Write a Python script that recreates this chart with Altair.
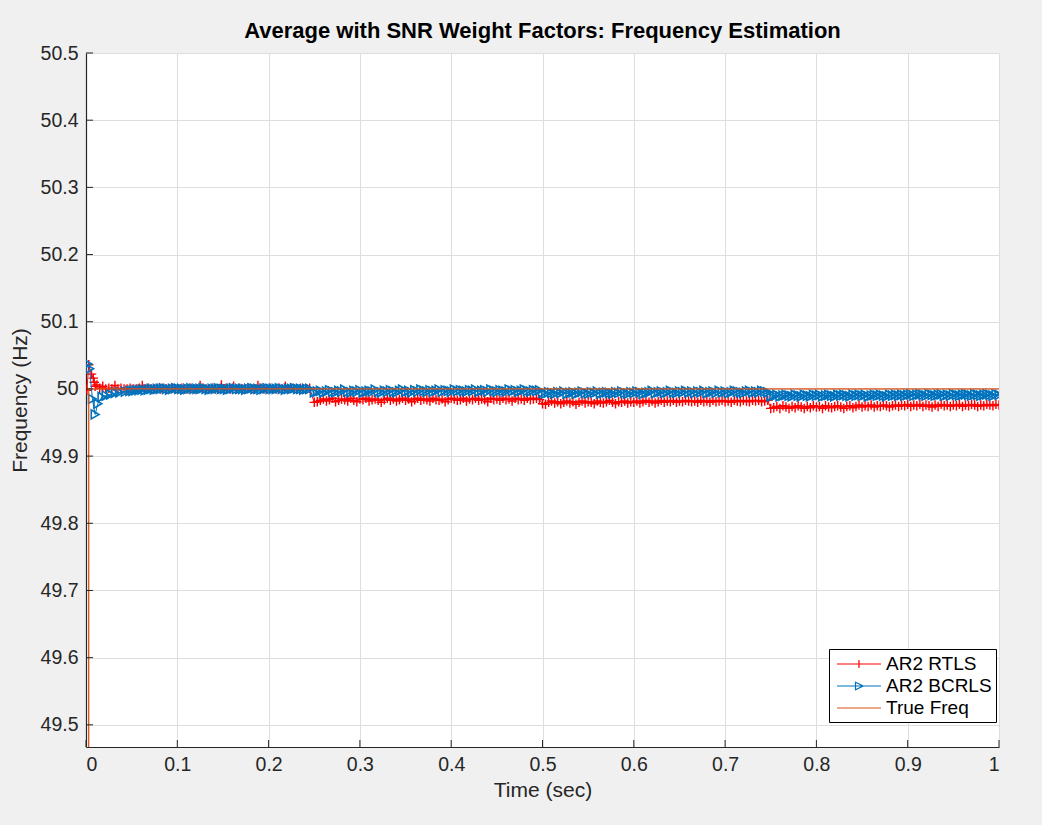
import altair as alt
import numpy as np
import pandas as pd

# ---------------- data ----------------
# AR2 RTLS (red, '+')
rtls_early_t = [0.001, 0.003, 0.006, 0.008, 0.009, 0.010, 0.012]
rtls_early_f = [49.998, 50.036, 50.022, 50.016, 50.010, 50.004, 50.006]
rtls_seg1 = [50.001, 50.004, 50.000, 50.001, 50.000, 50.005, 50.000, 50.001, 50.000, 50.000,
             50.001, 50.000, 50.000, 50.001, 50.005, 50.000, 50.001, 50.000, 50.000, 50.001,
             50.000, 50.001, 50.000, 50.000, 50.001, 50.000, 50.000, 50.001, 50.000, 50.000,
             50.001, 50.000, 50.000, 50.005, 50.001, 50.000, 50.000, 50.001, 50.000, 50.000,
             50.006, 50.000, 50.001, 50.000, 50.004, 50.000, 50.001, 50.000, 50.000, 50.001,
             50.000, 50.000, 50.005, 50.001, 50.000, 50.000, 50.001, 50.000, 50.000, 50.001,
             50.000, 50.004, 50.000, 50.001, 50.000, 50.000, 50.001, 50.000, 50.000, 50.001]
rtls_seg2 = [49.980, 49.981, 49.983, 49.985, 49.982, 49.984, 49.986, 49.981, 49.983, 49.985,
             49.984, 49.982, 49.986, 49.983, 49.981, 49.985, 49.984, 49.986, 49.982, 49.984,
             49.985, 49.983, 49.980, 49.984, 49.986, 49.983, 49.985, 49.982, 49.984, 49.986,
             49.983, 49.985, 49.981, 49.984, 49.986, 49.983, 49.985, 49.984, 49.982, 49.986,
             49.984, 49.983, 49.985, 49.981, 49.984, 49.986, 49.985, 49.983, 49.984, 49.986,
             49.982, 49.985, 49.984, 49.986, 49.983, 49.985, 49.984, 49.981, 49.986, 49.984,
             49.985, 49.983, 49.986, 49.984, 49.985, 49.982, 49.986, 49.984, 49.985, 49.983,
             49.986, 49.984, 49.985, 49.986, 49.984]
rtls_seg3 = [49.978, 49.977, 49.980, 49.982, 49.979, 49.981, 49.978, 49.980, 49.982, 49.979,
             49.981, 49.977, 49.980, 49.982, 49.979, 49.981, 49.980, 49.978, 49.982, 49.980,
             49.979, 49.981, 49.983, 49.980, 49.978, 49.981, 49.980, 49.982, 49.979, 49.981,
             49.980, 49.982, 49.979, 49.981, 49.983, 49.980, 49.982, 49.979, 49.981, 49.983,
             49.980, 49.982, 49.981, 49.983, 49.980, 49.982, 49.981, 49.983, 49.982, 49.981,
             49.982, 49.980, 49.983, 49.981, 49.982, 49.980, 49.983, 49.981, 49.982, 49.983,
             49.981, 49.982, 49.980, 49.983, 49.982, 49.981, 49.983, 49.982, 49.981, 49.983,
             49.982, 49.983, 49.981, 49.982, 49.983]
rtls_seg4 = [49.971, 49.972, 49.974, 49.971, 49.975, 49.973, 49.971, 49.974, 49.972, 49.975,
             49.973, 49.971, 49.974, 49.972, 49.975, 49.973, 49.974, 49.971, 49.975, 49.973,
             49.972, 49.974, 49.975, 49.973, 49.971, 49.974, 49.975, 49.972, 49.974, 49.976,
             49.973, 49.975, 49.974, 49.976, 49.973, 49.975, 49.974, 49.976, 49.975, 49.973,
             49.975, 49.976, 49.974, 49.976, 49.975, 49.977, 49.974, 49.976, 49.975, 49.977,
             49.974, 49.976, 49.975, 49.973, 49.976, 49.974, 49.977, 49.975, 49.976, 49.974,
             49.976, 49.975, 49.977, 49.974, 49.976, 49.975, 49.977, 49.976, 49.974, 49.976,
             49.975, 49.977, 49.976, 49.975, 49.977, 49.976]

# AR2 BCRLS (blue, '>')
bcrls_early_t = [0.002, 0.004, 0.007, 0.010, 0.013, 0.0175, 0.022, 0.027, 0.032, 0.037, 0.043]
bcrls_early_f = [50.037, 50.030, 49.985, 49.962, 49.978, 49.988, 49.990, 49.992, 49.994, 49.995, 49.996]
bcrls_seg1 = [49.997, 49.997, 49.998, 49.998, 49.999, 49.998, 49.999, 50.000, 49.999, 50.000,
              50.000, 50.001, 50.000, 49.999, 50.000, 50.001, 50.000, 50.000, 49.999, 50.000,
              50.001, 50.000, 50.000, 50.000, 50.001, 50.000, 49.999, 50.000, 50.000, 50.001,
              50.000, 50.000, 49.999, 50.000, 50.001, 50.000, 50.000, 50.000, 49.999, 50.000,
              50.001, 50.000, 50.000, 49.999, 50.000, 50.001, 50.000, 50.000, 50.000, 50.001,
              50.000, 49.999, 50.000, 50.000, 50.001, 50.000, 50.000, 49.999, 50.000, 50.000]
bcrls_seg2 = [49.995, 49.996, 49.997, 49.995, 49.996, 49.998, 49.996, 49.995, 49.997, 49.996,
              49.999, 49.996, 49.995, 49.997, 49.996, 49.998, 49.995, 49.996, 49.997, 49.996,
              49.999, 49.996, 49.995, 49.997, 49.996, 49.998, 49.996, 49.995, 49.997, 49.999,
              49.996, 49.997, 49.995, 49.998, 49.996, 49.999, 49.997, 49.996, 49.998, 49.996,
              49.997, 49.999, 49.996, 49.998, 49.997, 49.996, 49.999, 49.997, 49.998, 49.997,
              49.996, 49.998, 49.997, 49.999, 49.996, 49.997, 49.998, 49.996, 49.999, 49.997,
              49.996, 49.998, 49.997, 49.996, 49.999, 49.997, 49.998, 49.996, 49.997, 49.999,
              49.997, 49.996, 49.998, 49.997, 49.998]
bcrls_seg3 = [49.994, 49.993, 49.995, 49.994, 49.993, 49.995, 49.994, 49.996, 49.993, 49.994,
              49.995, 49.993, 49.994, 49.996, 49.994, 49.993, 49.995, 49.994, 49.996, 49.993,
              49.994, 49.995, 49.994, 49.993, 49.995, 49.994, 49.996, 49.994, 49.993, 49.995,
              49.994, 49.996, 49.995, 49.993, 49.994, 49.995, 49.997, 49.994, 49.995, 49.996,
              49.994, 49.995, 49.997, 49.995, 49.994, 49.996, 49.995, 49.997, 49.995, 49.996,
              49.994, 49.996, 49.995, 49.997, 49.994, 49.995, 49.996, 49.994, 49.997, 49.995,
              49.996, 49.994, 49.995, 49.997, 49.996, 49.995, 49.994, 49.996, 49.997, 49.995,
              49.996, 49.995, 49.997, 49.996, 49.995]
bcrls_seg4 = [49.989, 49.990, 49.991, 49.989, 49.990, 49.991, 49.990, 49.989, 49.991, 49.990,
              49.989, 49.991, 49.990, 49.989, 49.991, 49.990, 49.991, 49.989, 49.990, 49.991,
              49.990, 49.989, 49.991, 49.990, 49.991, 49.990, 49.989, 49.991, 49.990, 49.991,
              49.990, 49.991, 49.989, 49.990, 49.991, 49.990, 49.991, 49.990, 49.989, 49.991,
              49.990, 49.991, 49.990, 49.991, 49.990, 49.991, 49.992, 49.990, 49.991, 49.992,
              49.991, 49.990, 49.992, 49.991, 49.990, 49.991, 49.992, 49.990, 49.991, 49.990,
              49.992, 49.991, 49.990, 49.991, 49.992, 49.991, 49.990, 49.992, 49.991, 49.990,
              49.991, 49.992, 49.991, 49.990, 49.992, 49.991]

# True frequency (orange)
true_t = [0.0, 0.003, 1.0]
true_f = [0.0, 50.0, 50.0]

# segment time spans (sampling grid)
rtls_spans = [(0.015, 0.245), (0.25, 0.4967), (0.5, 0.7467), (0.75, 1.0)]
bcrls_spans = [(0.048, 0.245), (0.25, 0.4967), (0.5, 0.7467), (0.75, 1.0)]

x_ticks = [0, 0.1, 0.2, 0.3, 0.4, 0.5, 0.6, 0.7, 0.8, 0.9, 1.0]
y_ticks = [49.5, 49.6, 49.7, 49.8, 49.9, 50.0, 50.1, 50.2, 50.3, 50.4, 50.5]

series_names = ["AR2 RTLS", "AR2 BCRLS", "True Freq"]
series_colors = ["#ff0000", "#0072bd", "#d95319"]
legend_paths = ["M-2.2,0H2.2M0,-0.4V0.4",
                "M-2.2,0H2.2M-0.35,-0.38L0.42,0L-0.35,0.38Z",
                "M-2.2,0H2.2"]


def build(early_t, early_f, spans, segs, name):
    ts = list(early_t)
    fs = list(early_f)
    for (a, b), vals in zip(spans, segs):
        ts += list(np.linspace(a, b, len(vals)))
        fs += list(vals)
    return pd.DataFrame({"t": ts, "f": fs, "series": name})


df_rt = build(rtls_early_t, rtls_early_f, rtls_spans,
              [rtls_seg1, rtls_seg2, rtls_seg3, rtls_seg4], "AR2 RTLS")
df_bc = build(bcrls_early_t, bcrls_early_f, bcrls_spans,
              [bcrls_seg1, bcrls_seg2, bcrls_seg3, bcrls_seg4], "AR2 BCRLS")
df_tr = pd.DataFrame({"t": true_t, "f": true_f, "series": "True Freq"})
# legend-only rows, placed outside the x domain (clipped away)
df_leg = pd.DataFrame({"t": [-1.0] * 3, "f": [50.0] * 3, "series": series_names})

W, H = 913, 694
FONT = "Liberation Sans"
TXT = "#262626"

x_enc = alt.X("t:Q", scale=alt.Scale(domain=[0, 1], nice=False, zero=False),
              axis=alt.Axis(values=x_ticks, title="Time (sec)", labelExpr="format(datum.value, '~g')",
                            grid=True, ticks=False, tickSize=0, labelPadding=8,
                            titlePadding=6))
y_enc = alt.Y("f:Q", scale=alt.Scale(domain=[49.467, 50.5], nice=False, zero=False),
              axis=alt.Axis(values=y_ticks, title="Frequency (Hz)", labelExpr="format(datum.value, '~g')",
                            grid=True, ticks=False, tickSize=0, labelPadding=8,
                            titlePadding=10))

legend = alt.Legend(
    title=None, orient="none", legendX=743, legendY=596,
    fillColor="white", strokeColor="black", padding=4,
    symbolSize=400, symbolOffset=15, labelOffset=16, symbolStrokeWidth=1.2,
    symbolFillColor="transparent",
    labelFont=FONT, labelFontSize=19, labelColor="black", rowPadding=1,
)
color_scale = alt.Scale(domain=series_names, range=series_colors)
color_enc = alt.Color("series:N", scale=color_scale, legend=legend)

PLUS = "M-1,0H1M0,-1V1"

rt_line = alt.Chart(df_rt).mark_line(strokeWidth=1, clip=True).encode(x=x_enc, y=y_enc, color=color_enc)
rt_pts = alt.Chart(df_rt).mark_point(shape=PLUS, size=90, filled=False, strokeWidth=1.4,
                                     opacity=1, clip=True).encode(x=x_enc, y=y_enc, color=color_enc)
bc_line = alt.Chart(df_bc).mark_line(strokeWidth=1, clip=True).encode(x=x_enc, y=y_enc, color=color_enc)
bc_pts = alt.Chart(df_bc).mark_point(shape="triangle-right", size=80, filled=False, strokeWidth=1.6,
                                     opacity=1, clip=True).encode(x=x_enc, y=y_enc, color=color_enc)
tr_line = alt.Chart(df_tr).mark_line(strokeWidth=1.3, clip=True).encode(x=x_enc, y=y_enc, color=color_enc)

leg_layer = alt.Chart(df_leg).mark_point(filled=False, opacity=1, strokeWidth=1.2, clip=True).encode(
    x=x_enc, y=y_enc,
    color=color_enc,
    shape=alt.Shape("series:N", scale=alt.Scale(domain=series_names, range=legend_paths), legend=legend),
)

xt_df = pd.DataFrame({"t": x_ticks})
yt_df = pd.DataFrame({"f": y_ticks})
x_tickmarks = alt.Chart(xt_df).mark_rule(color=TXT, strokeWidth=1).encode(
    x=alt.X("t:Q"), y=alt.value(H), y2=alt.value(H - 7))
y_tickmarks = alt.Chart(yt_df).mark_rule(color=TXT, strokeWidth=1).encode(
    y=alt.Y("f:Q"), x=alt.value(0), x2=alt.value(7))

chart = alt.layer(rt_line, rt_pts, bc_line, bc_pts, tr_line, x_tickmarks, y_tickmarks, leg_layer).properties(
    width=W, height=H,
    title=alt.Title("Average with SNR Weight Factors: Frequency Estimation",
                    font=FONT, fontSize=22, fontWeight="bold", color="black", offset=0,
                    anchor="middle"),
    autosize=alt.AutoSizeParams(type="none"),
    padding={"left": 86, "top": 53, "right": 43, "bottom": 78},
    background="#f0f0f0",
).configure_view(fill="white", stroke=None).configure_axis(
    domainColor=TXT, domainWidth=1.2, gridColor="#dedede", gridWidth=1,
    labelFont=FONT, labelFontSize=19.5, labelColor=TXT,
    titleFont=FONT, titleFontSize=21, titleColor=TXT, titleFontWeight="normal",
)

chart.save("out.html", embed_options={"renderer": "svg", "actions": False})
